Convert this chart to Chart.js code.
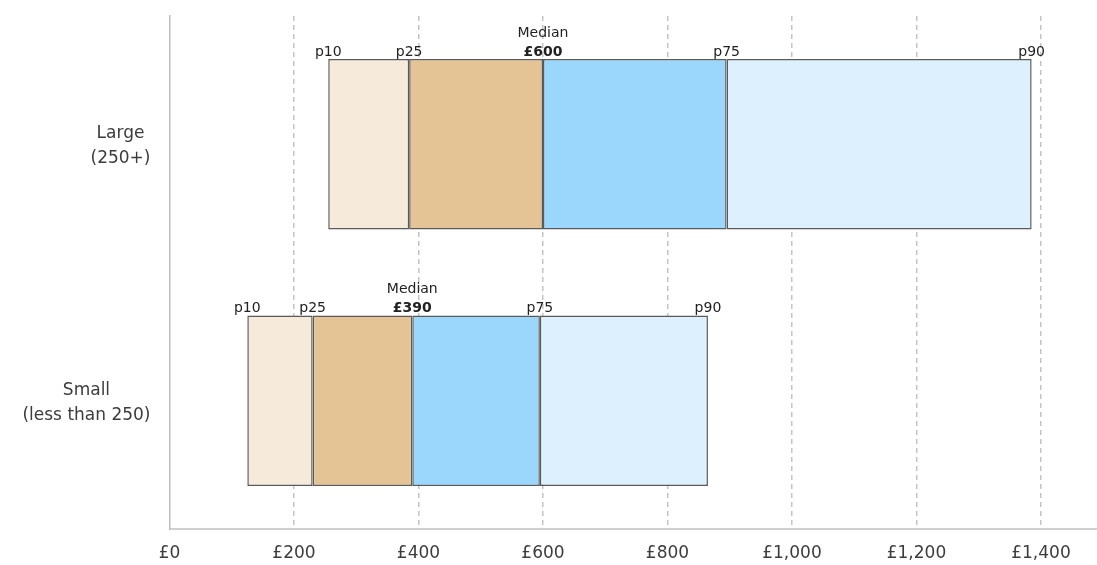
<!DOCTYPE html>
<html>
<head>
<meta charset="utf-8">
<script src="https://cdn.jsdelivr.net/npm/chart.js@4/dist/chart.umd.min.js"></script>
<style>
  html, body { margin: 0; padding: 0; background: #ffffff; }
  #wrap { width: 1097px; height: 565px; position: relative; }
</style>
</head>
<body>
<div id="wrap"><canvas id="chart"></canvas></div>
<script>
// Organisation size groups (each label is drawn on two lines)
const categories = [["Large", "(250+)"], ["Small", "(less than 250)"]];

// Percentile values, in £, one entry per size group
const p10 = [255, 125];
const p25 = [385, 230];
const median = [600, 390];
const p75 = [895, 595];
const p90 = [1385, 865];

// Value axis ticks
const tickValues = [0, 200, 400, 600, 800, 1000, 1200, 1400];
const tickLabels = ["£0", "£200", "£400", "£600", "£800", "£1,000", "£1,200", "£1,400"];
const axisMax = 1490;

const FONT = "'DejaVu Sans', sans-serif";
const TEXT = "#3c3c3c";

const span = (a, b) => categories.map((_, i) => [a[i], b[i]]);

const bandStyle = {
  borderColor: "#5a5a5a",
  borderWidth: 1.5,
  borderSkipped: false,
  barPercentage: 0.665,
  categoryPercentage: 1,
  grouped: false
};

const datasets = [
  Object.assign({ label: "p10–p25", data: span(p10, p25), backgroundColor: "#f6ebdb" }, bandStyle),
  Object.assign({ label: "p25–median", data: span(p25, median), backgroundColor: "#e4c394" }, bandStyle),
  Object.assign({ label: "median–p75", data: span(median, p75), backgroundColor: "#9bd6fc" }, bandStyle),
  Object.assign({ label: "p75–p90", data: span(p75, p90), backgroundColor: "#ddf0fe" }, bandStyle)
];

// Percentile markers written above each bar, plus the two-line category labels
const annotations = {
  id: "percentileLabels",
  afterDatasetsDraw(chart) {
    const ctx = chart.ctx;
    const x = chart.scales.x;
    const meta = chart.getDatasetMeta(0);
    ctx.save();
    categories.forEach((cat, i) => {
      const el = meta.data[i];
      const top = el.y - el.height / 2;
      const base = top - 3;
      ctx.fillStyle = "#222222";
      ctx.textBaseline = "alphabetic";
      ctx.textAlign = "center";
      ctx.font = "14px " + FONT;
      [["p10", p10], ["p25", p25], ["p75", p75], ["p90", p90]].forEach(([name, arr]) => {
        ctx.fillText(name, x.getPixelForValue(arr[i]), base);
      });
      const mx = x.getPixelForValue(median[i]);
      ctx.fillText("Median", mx, base - 19);
      ctx.font = "bold 14px " + FONT;
      ctx.fillText("£" + median[i], mx, base);

      // category label block: right-aligned block, lines centred inside it
      ctx.font = "17px " + FONT;
      ctx.fillStyle = TEXT;
      ctx.textBaseline = "middle";
      const widest = Math.max(...cat.map(t => ctx.measureText(t).width));
      const right = chart.chartArea.left - 19;
      const cx = right - widest / 2;
      const lh = 25;
      const y0 = el.y + 2 - (cat.length - 1) * lh / 2;
      cat.forEach((t, k) => ctx.fillText(t, cx, y0 + k * lh));
    });
    ctx.restore();
  }
};

new Chart(document.getElementById("chart"), {
  type: "bar",
  data: { labels: categories.map(c => c.join(" ")), datasets },
  plugins: [annotations],
  options: {
    indexAxis: "y",
    responsive: true,
    maintainAspectRatio: false,
    animation: false,
    layout: { padding: { left: 169.5, top: 16, right: 0, bottom: 3 } },
    plugins: { legend: { display: false }, tooltip: { enabled: false } },
    scales: {
      x: {
        type: "linear",
        min: 0,
        max: axisMax,
        afterBuildTicks(scale) {
          scale.ticks = tickValues.map(v => ({ value: v }));
        },
        afterFit(scale) { scale.height = 33; },
        ticks: {
          padding: 14,
          color: TEXT,
          font: { family: FONT, size: 17 },
          callback: (v) => tickLabels[tickValues.indexOf(v)]
        },
        grid: {
          drawTicks: false,
          lineWidth: 1.5,
          color: (c) => (c.tick && c.tick.value === 0 ? "rgba(0,0,0,0)" : "#c4c4c4")
        },
        border: { display: true, color: "#d0d0d0", width: 2, dash: [5, 4] }
      },
      y: {
        ticks: { display: false },
        grid: { display: false, drawTicks: false },
        border: { display: true, color: "#bdbdbd", width: 1.5 },
        afterFit(scale) { scale.width = 0; }
      }
    }
  }
});
</script>
</body>
</html>
